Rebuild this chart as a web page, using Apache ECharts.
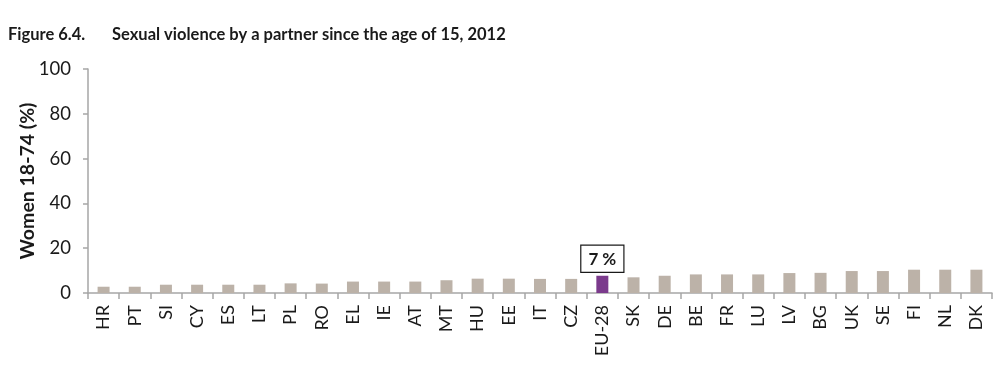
<!DOCTYPE html>
<html>
<head>
<meta charset="utf-8">
<script src="https://cdn.jsdelivr.net/npm/echarts@6/dist/echarts.min.js"></script>
<style>
html,body{margin:0;padding:0;background:#fff;}
#c{width:1004px;height:378px;}
</style>
</head>
<body>
<div id="c"></div>
<script>
const categories = ['HR','PT','SI','CY','ES','LT','PL','RO','EL','IE','AT','MT','HU','EE','IT','CZ','EU-28','SK','DE','BE','FR','LU','LV','BG','UK','SE','FI','NL','DK'];
const values = [2.8,2.8,3.7,3.7,3.7,3.7,4.3,4.2,5.1,5.1,5.1,5.7,6.4,6.4,6.3,6.3,7.7,7.0,7.7,8.3,8.3,8.3,8.9,9.0,9.8,9.8,10.4,10.4,10.4];
const highlight = 'EU-28';
const highlightLabel = '7 %';
const yTicks = [0,20,40,60,80,100];

const FONT = 'Lato, "Liberation Sans", sans-serif';
const chart = echarts.init(document.getElementById('c'));
chart.setOption({
  animation: false,
  title: {
    left: 8, top: 26, padding: 0,
    text: '{a|Figure 6.4.}{b|Sexual violence by a partner since the age of 15, 2012}',
    textStyle: {
      rich: {
        a: {fontFamily: FONT, fontWeight: 'bold', fontSize: 16.5, color: '#1a1a1a', width: 104},
        b: {fontFamily: FONT, fontWeight: 'bold', fontSize: 16.5, color: '#1a1a1a'}
      }
    }
  },
  grid: {left: 88, right: 12, top: 69, bottom: 85, containLabel: false},
  xAxis: {
    type: 'category',
    data: categories,
    axisLine: {lineStyle: {color: '#a6a6a6', width: 1.5}},
    axisTick: {show: true, interval: 0, length: 6, lineStyle: {color: '#a6a6a6', width: 1.5}},
    axisLabel: {interval: 0, rotate: 90, fontFamily: FONT, fontSize: 18, color: '#1a1a1a', margin: 12}
  },
  yAxis: {
    type: 'value',
    min: yTicks[0], max: yTicks[yTicks.length-1], interval: 20,
    name: 'Women 18-74 (%)',
    nameLocation: 'middle', nameRotate: 90, nameGap: 50,
    nameMoveOverlap: false,
    nameTextStyle: {fontFamily: FONT, fontWeight: 'bold', fontSize: 19.5, color: '#1a1a1a'},
    axisLine: {show: true, lineStyle: {color: '#a6a6a6', width: 1.5}},
    axisTick: {show: true, length: 5, lineStyle: {color: '#a6a6a6', width: 1.5}},
    splitLine: {show: false},
    axisLabel: {fontFamily: FONT, fontSize: 18.5, color: '#1a1a1a', margin: 17}
  },
  series: [{
    type: 'bar',
    barWidth: 12,
    data: categories.map((c, i) => {
      if (c === highlight) {
        return {
          value: values[i],
          itemStyle: {color: '#7b3a8c'},
          label: {
            show: true, position: 'top', distance: 4,
            formatter: highlightLabel,
            fontFamily: FONT, fontWeight: 'bold', fontSize: 17, color: '#1a1a1a',
            backgroundColor: '#fff', borderColor: '#1a1a1a', borderWidth: 1.2,
            padding: [5, 7, 4, 7]
          }
        };
      }
      return {value: values[i], itemStyle: {color: '#bcb2a8'}};
    })
  }]
});
</script>
</body>
</html>
